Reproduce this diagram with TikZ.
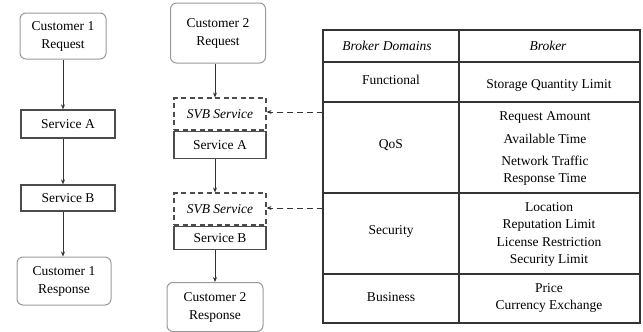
\documentclass[tikz,border=0pt]{standalone}
\usepackage{fontspec}
\setmainfont{Liberation Serif}
\usetikzlibrary{positioning,arrows.meta}

\begin{document}
\begin{tikzpicture}[x=1pt,y=-1pt,>={Stealth[length=5pt,width=4pt]},
	font=\fontsize{13.5}{18}\selectfont,
	custbox/.style={draw=black!40,line width=1pt,rounded corners=6pt,
		align=center,inner sep=1pt},
	servbox/.style={draw=black!70,line width=1.3pt,inner sep=1pt},
	svbbox/.style={draw=black!70,line width=1.1pt,dash pattern=on 5pt off 3.5pt,
		inner sep=1pt,font=\fontsize{13.5}{15}\selectfont\itshape},
	flow/.style={->,draw=black!80,line width=0.8pt},
	cell/.style={inner sep=0pt}]

	\useasboundingbox (0,0) rectangle (643,332);

	% customer 1: plain chain
	\node [custbox,minimum width=86,minimum height=46] (c1req) at (63,36)
		{Customer 1\\Request};
	\node [servbox,minimum width=94,minimum height=28] (sa1) at (68,124) {Service A};
	\node [servbox,minimum width=94,minimum height=26] (sb1) at (68,198) {Service B};
	\node [custbox,minimum width=94,minimum height=48] (c1res) at (64,281)
		{Customer 1\\Response};
	\draw [flow] (c1req) -- (c1req |- sa1.north);
	\draw [flow] (c1req |- sa1.south) -- (c1req |- sb1.north);
	\draw [flow] (c1req |- sb1.south) -- (c1req |- c1res.north);

	% customer 2: chain through the SVB services
	\node [custbox,minimum width=95,minimum height=60] (c2req) at (218,33)
		{Customer 2\\Request};
	\node [svbbox,minimum width=92,minimum height=32] (svb1) at (220,114) {SVB Service};
	\node [servbox,minimum width=92,minimum height=27,below=0pt of svb1] (sa2) {Service A};
	\node [svbbox,minimum width=92,minimum height=32] (svb2) at (220,209) {SVB Service};
	\node [servbox,minimum width=92,minimum height=23,below=0pt of svb2] (sb2) {Service B};
	\node [custbox,minimum width=96,minimum height=49] (c2res) at (215,307)
		{Customer 2\\Response};
	\draw [flow] (c2req.south -| c2res) -- (c2res |- svb1.north);
	\draw [flow] (c2res |- sa2.south) -- (c2res |- svb2.north);
	\draw [flow] (c2res |- sb2.south) -- (c2res.north);

	% broker table
	\draw [draw=black!80,line width=1.2pt] (323,30) rectangle (640,323);
	\foreach \y in {62,102,193,274}
		\draw [draw=black!80,line width=1.2pt] (323,\y) -- (640,\y);
	\draw [draw=black!80,line width=1.2pt] (459,30) -- (459,323);

	\node [cell,font=\fontsize{13.5}{15}\selectfont\itshape] (hdom) at (387,46) {Broker Domains};
	\node [cell,font=\fontsize{13.5}{15}\selectfont\itshape] (hbrk) at (548,46) {Broker};

	\node [cell] (dfun) at (391,80) {Functional};
	\node [cell] (dqos) at (391,145) {QoS};
	\node [cell] (dsec) at (391,231) {Security};
	\node [cell] (dbus) at (391,297) {Business};

	\node [cell] (bfun) at (549,85) {Storage Quantity Limit};
	\foreach \txt/\y [count=\i] in {Request Amount/117,Available Time/139,
		Network Traffic/161,Response Time/179}
		\node [cell] (bqos\i) at (545,\y) {\txt};
	\foreach \txt/\y [count=\i] in {Location/207,Reputation Limit/225,
		License Restriction/242,Security Limit/260}
		\node [cell] (bsec\i) at (549,\y) {\txt};
	\foreach \txt/\y [count=\i] in {Price/288,Currency Exchange/306}
		\node [cell] (bbus\i) at (549,\y) {\txt};

	% brokers feed the SVB services
	\coordinate (qosin) at (323,112);
	\coordinate (secin) at (323,208);
	\draw [flow,dash pattern=on 6pt off 4pt,line width=1pt] (qosin) -- (qosin -| svb1.east);
	\draw [flow,dash pattern=on 6pt off 4pt,line width=1pt] (secin) -- (secin -| svb2.east);

\end{tikzpicture}
\end{document}
